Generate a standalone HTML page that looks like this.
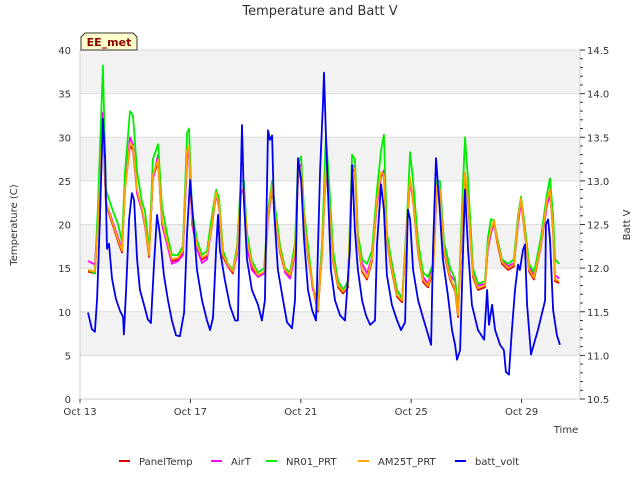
<!DOCTYPE html>
<html><head><meta charset="utf-8"><style>
body{margin:0;background:#fff;font-family:"Liberation Sans","DejaVu Sans",sans-serif}
svg text{font-family:"DejaVu Sans","Liberation Sans",sans-serif}
</style></head><body>
<svg id="chart" width="640" height="480" viewBox="0 0 640 480" xmlns="http://www.w3.org/2000/svg">
<text x="320" y="15" text-anchor="middle" font-size="13" fill="#333">Temperature and Batt V</text>
<g id="plot"></g>
<text transform="translate(17,225) rotate(-90)" text-anchor="middle" font-size="10" fill="#333">Temperature (C)</text>
<text transform="translate(630,225) rotate(-90)" text-anchor="middle" font-size="10" fill="#333">Batt V</text>
<text x="566" y="433" text-anchor="middle" font-size="10" fill="#333">Time</text>
<g>
<path d="M81,50 L81,37 L85,33 L133,33 L137,37 L137,50 Z" fill="#ffffcc" stroke="#333" stroke-width="1"/>
<text x="109" y="46" text-anchor="middle" font-size="11" font-weight="bold" fill="#8b0000">EE_met</text>
</g>
<g id="legend"></g>
</svg>
<script>
const tempTimes=[0.29,0.54,0.65,0.83,0.94,1.09,1.2,1.38,1.52,1.63,1.81,1.92,2.07,2.25,2.36,2.5,2.64,2.83,2.97,3.15,3.33,3.55,3.73,3.88,3.95,4.06,4.24,4.42,4.6,4.78,4.93,5.04,5.18,5.36,5.54,5.69,5.83,5.94,6.05,6.23,6.45,6.67,6.81,6.96,7.07,7.25,7.43,7.61,7.79,7.9,8.01,8.12,8.26,8.44,8.62,8.77,8.91,9.02,9.17,9.35,9.53,9.71,9.86,9.96,10.07,10.22,10.4,10.58,10.76,10.91,11.01,11.12,11.3,11.49,11.67,11.85,11.96,12.07,12.25,12.43,12.61,12.79,12.93,13.04,13.19,13.41,13.59,13.7,13.84,13.95,14.06,14.24,14.42,14.67,14.78,14.89,15.0,15.11,15.29,15.51,15.72,15.87,15.98,16.09,16.27,16.45,16.7,16.92,17.03,17.14,17.21,17.36];
const am25t=[14.8,14.6,20,32,22.8,21,20,18.2,17,24,29.3,29,24,21.7,20,16.5,25.7,27.4,20.5,18.2,16,16.2,17,28.5,29,20.5,17.6,16.2,16.5,20,23.7,22.2,16.5,15.4,14.6,17,24,24,18.2,15.4,14.2,14.6,20.9,24.5,21,17,14.8,14.2,17,25.7,26.5,20.5,16.5,13,10.2,17,26.8,22.8,16,13,12.3,13,26.8,26.2,18.2,14.8,13.9,16,22.8,26,25.7,18.2,14.8,11.9,11.3,20.5,25.4,22.8,17,13.6,13,14.8,24.5,24,17,13.9,12.6,9.6,20.5,26,22.8,14.2,12.7,13,17.7,19.4,20.5,18.2,15.7,15,15.4,20.5,23,19.9,14.8,13.9,17.7,22.8,24,19.4,13.7,13.5];
const panelTemp=[14.6,14.4,20.5,31.5,22.5,20.8,19.8,18,16.8,24.2,29,28.6,23.8,21.5,19.8,16.3,25.4,27.2,20.3,18,15.8,16,16.8,28.2,28.7,20.3,17.4,16,16.3,19.8,23.5,22,16.3,15.2,14.4,16.8,23.8,23.8,18,15.2,14,14.4,20.7,24.3,20.8,16.8,14.6,14,16.8,25.5,26.3,20.3,16.3,12.8,10,16.8,26.6,22.6,15.8,12.8,12.1,12.8,26.6,26,18,14.6,13.7,15.8,22.6,25.8,25.5,18,14.6,11.7,11.1,20.3,25.2,22.6,16.8,13.4,12.8,14.6,24.3,23.8,16.8,13.7,12.4,9.4,20.3,25.8,22.6,14,12.5,12.8,17.5,19.2,20.3,18,15.5,14.8,15.2,20.3,22.8,19.7,14.6,13.7,17.5,22.6,23.8,19.2,13.5,13.3];
const airT=[15.8,15.4,21,32.8,22.5,21.2,20.2,18.5,17.2,24,30,29.2,23.5,21.5,19.8,16.8,25.2,28,20,17.8,15.5,15.8,16.5,27.5,28.5,20,17.2,15.6,16,20.2,23.5,22,16.8,15.2,14.6,16.5,23.5,24.2,17.5,14.8,14,14.4,20.5,24,21.5,17.5,14.5,13.8,16.5,25,27,21,16.8,12.5,11.5,17.5,26,23.5,16.5,13.5,12.6,13.2,26.5,26.8,18.8,15.5,14.4,16.2,22.2,25.5,26.2,18.8,15.5,12.4,11.6,20,25,23.2,17.5,14,13.2,15.2,23.8,24.3,17.5,14.2,13.5,10.2,20,25.5,23.2,14.6,13,13.2,17.2,19,20.2,18.5,16,15.2,15.6,20,22.5,20.2,15.2,14.2,17.5,22.2,23.5,19.8,14.2,13.8];
const nr01=[14.8,14.4,22,38.2,24,22.5,21.5,20,18,26,33,32.5,26,22.5,21.5,17,27.5,29.2,22,19,16.5,16.5,17.5,30.5,31,21.5,18.2,16.5,17,21,24,23,17,15.5,14.8,17.5,25,25,19,15.8,14.5,15,21.5,25,22,17.5,15,14.5,17.8,27,27.8,21.5,17.5,13,10.5,18,30.2,25,17,13.5,12.5,13.5,28,27.5,19,16,15.5,17,24,28.5,30.3,19,15.5,12.5,11.5,21,28.3,25,18,14.5,14,15.5,25,25,18,15,13.8,10,22,30,25,15,13.2,13.5,18.5,20.6,20.5,18.5,16,15.5,16,21,23.2,20.5,15.5,14.5,18.5,23.5,25.3,21,16,15.5];
const battTimes=[0.29,0.43,0.54,0.62,0.72,0.83,0.91,0.98,1.05,1.16,1.3,1.45,1.56,1.59,1.67,1.78,1.88,1.96,2.07,2.17,2.32,2.46,2.57,2.68,2.79,2.9,3.04,3.19,3.33,3.48,3.62,3.77,3.88,3.99,4.1,4.24,4.42,4.6,4.71,4.82,4.93,5.0,5.07,5.25,5.43,5.62,5.72,5.8,5.87,5.94,6.05,6.23,6.45,6.59,6.7,6.81,6.88,6.96,7.03,7.17,7.36,7.5,7.68,7.79,7.9,8.01,8.12,8.26,8.41,8.55,8.7,8.8,8.84,8.91,9.02,9.09,9.24,9.42,9.6,9.78,9.86,9.96,10.07,10.22,10.36,10.51,10.69,10.76,10.91,11.01,11.12,11.3,11.49,11.63,11.78,11.88,11.96,12.07,12.25,12.43,12.61,12.72,12.79,12.9,13.01,13.15,13.33,13.48,13.59,13.66,13.77,13.88,13.95,14.06,14.2,14.42,14.64,14.75,14.82,14.93,15.04,15.22,15.36,15.43,15.54,15.65,15.76,15.87,15.94,16.05,16.12,16.2,16.34,16.59,16.85,16.88,16.96,17.03,17.14,17.28,17.39];
const battVolt=[11.49,11.3,11.27,11.65,12.56,13.71,13.25,12.22,12.28,11.88,11.65,11.51,11.44,11.24,11.75,12.56,12.86,12.78,12.1,11.75,11.58,11.41,11.37,12.04,12.61,12.38,11.92,11.63,11.4,11.23,11.22,11.49,12.41,13.01,12.55,11.98,11.63,11.4,11.29,11.43,12.21,12.61,12.21,11.86,11.57,11.4,11.4,12.67,13.64,12.78,12.1,11.75,11.58,11.4,11.63,13.58,13.47,13.52,12.67,11.98,11.63,11.38,11.31,11.63,13.26,13.01,12.32,11.75,11.52,11.4,13.12,13.87,14.24,13.53,12.56,11.98,11.63,11.46,11.4,12.21,13.18,12.44,11.98,11.63,11.46,11.35,11.4,12.27,12.96,12.67,11.92,11.58,11.4,11.29,11.38,12.67,12.56,11.98,11.63,11.43,11.24,11.12,12.21,13.26,12.78,12.1,11.69,11.29,11.12,10.95,11.06,12.21,12.9,12.21,11.58,11.29,11.18,11.75,11.35,11.58,11.29,11.12,11.06,10.81,10.78,11.29,11.75,12.04,11.98,12.21,12.27,11.58,11.01,11.29,11.63,12.5,12.56,12.33,11.52,11.23,11.12];
const xTickDays=[0,4,8,12,16];
const xTickLabels=["Oct 13","Oct 17","Oct 21","Oct 25","Oct 29"];
const yTicks=[0,5,10,15,20,25,30,35,40];
const y2Ticks=[10.5,11.0,11.5,12.0,12.5,13.0,13.5,14.0,14.5];

const NS="http://www.w3.org/2000/svg";
const L=80,R=580,T=50,B=399;
const xs=d=>L+d*27.6;
const ys=v=>B-(v/40)*(B-T);
const y2s=v=>B-((v-10.5)/4)*(B-T);
const plot=document.getElementById('plot');
function mk(tag,attrs,parent){const e=document.createElementNS(NS,tag);for(const k in attrs)e.setAttribute(k,attrs[k]);(parent||plot).appendChild(e);return e;}
for(let i=0;i<4;i++){
  const lo=5+i*10,hi=lo+5;
  const r=mk('rect',{x:L,y:ys(hi),width:R-L,height:ys(lo)-ys(hi),fill:'#f2f2f2'});
  
  
}
yTicks.forEach(v=>{
  const g=mk('line',{x1:L,x2:R,y1:ys(v),y2:ys(v),stroke:'#dcdcdc','stroke-width':1});
  
  
  const t=mk('text',{x:L-9,y:ys(v)+4,'text-anchor':'end','font-size':10,fill:'#333'});
  t.textContent=v;
  
  
});
const ax=mk('path',{d:`M${L},${T} L${L},${B} L${R},${B} M${R},${T} L${R},${B}`,stroke:'#ccc',fill:'none','stroke-width':1});


xTickDays.forEach((d,i)=>{
  mk('line',{x1:xs(d),x2:xs(d),y1:B,y2:B+4,stroke:'#333'});
  const t=mk('text',{x:xs(d),y:B+16,'text-anchor':'middle','font-size':10,fill:'#333'});
  t.textContent=xTickLabels[i];
  
  
});
for(let k=0;k<=40;k++){
  const v=10.5+k*0.1;const major=k%5===0;
  mk('line',{x1:R,x2:R+(major?5:3),y1:y2s(v),y2:y2s(v),stroke:'#333'});
}
y2Ticks.forEach(v=>{
  const t=mk('text',{x:R+7,y:y2s(v)+4,'font-size':10,fill:'#333'});
  t.textContent=v.toFixed(1);
  
  
});
function line(times,vals,scale,color,name){
  const d=times.map((t,i)=>(i?'L':'M')+xs(t).toFixed(1)+','+scale(vals[i]).toFixed(1)).join(' ');
  const p=mk('path',{d:d,stroke:color,fill:'none','stroke-width':1.8,'stroke-linejoin':'round'});
  
  
}
line(tempTimes,panelTemp,ys,'#dd0000','series-paneltemp');
line(tempTimes,airT,ys,'#ff00ff','series-airt');
line(tempTimes,nr01,ys,'#00ee00','series-nr01-prt');
line(tempTimes,am25t,ys,'#ffa500','series-am25t-prt');
line(battTimes,battVolt,y2s,'#0000ee','series-batt-volt');
const leg=document.getElementById('legend');
const items=[["PanelTemp","#dd0000",119],["AirT","#ff00ff",211],["NR01_PRT","#00ee00",266],["AM25T_PRT","#ffa500",358],["batt_volt","#0000ee",455]];
items.forEach(it=>{
  const g=mk('g',{},leg);
  
  
  mk('line',{x1:it[2],x2:it[2]+11,y1:461,y2:461,stroke:it[1],'stroke-width':2},g);
  const t=mk('text',{x:it[2]+20,y:465,'font-size':10,fill:'#333'},g);
  t.textContent=it[0];
});
</script>
</body></html>
